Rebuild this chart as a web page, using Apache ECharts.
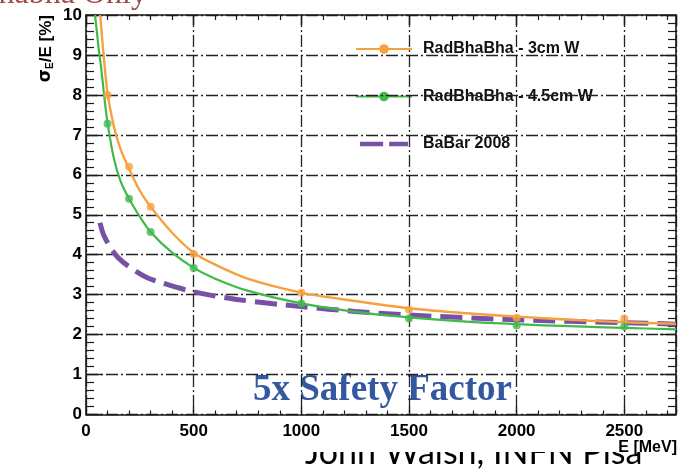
<!DOCTYPE html>
<html>
<head>
<meta charset="utf-8">
<script src="https://cdn.jsdelivr.net/npm/echarts@6/dist/echarts.min.js"></script>
<style>
  html, body { margin: 0; padding: 0; background: #fff; }
  #chart { width: 696px; height: 472px; }
</style>
</head>
<body>
<div id="chart"></div>
<script>
// Energy resolution vs. beam energy
const xTicks = [0, 500, 1000, 1500, 2000, 2500];
const yTicks = [0, 1, 2, 3, 4, 5, 6, 7, 8, 9, 10];

const nameW3 = 'RadBhaBha - 3cm W';
const nameW45 = 'RadBhaBha - 4.5cm W';
const nameBaBar = 'BaBar 2008';

// measured points [E MeV, sigma_E/E %]
const pointsW3 = [[100, 8.0], [200, 6.2], [300, 5.2], [500, 4.02], [1000, 3.05], [1500, 2.62], [2000, 2.42], [2500, 2.4]];
const pointsW45 = [[100, 7.28], [200, 5.4], [300, 4.57], [500, 3.67], [1000, 2.78], [1500, 2.4], [2000, 2.23], [2500, 2.2]];

// fitted curves
const curveW3 = [[66, 10], [80, 9.1], [100, 8.05], [130, 7.2], [160, 6.65], [200, 6.15], [250, 5.6], [300, 5.2],
  [400, 4.55], [500, 4.05], [600, 3.75], [750, 3.4], [1000, 3.05], [1250, 2.84], [1500, 2.66], [1750, 2.54],
  [2000, 2.45], [2250, 2.37], [2500, 2.31], [2740, 2.27]];
const curveW45 = [[42, 10], [50, 9.6], [60, 9.1], [70, 8.7], [85, 7.95], [100, 7.3], [130, 6.4], [160, 5.85],
  [200, 5.4], [250, 4.95], [300, 4.57], [400, 4.05], [500, 3.67], [600, 3.4], [750, 3.1], [1000, 2.78],
  [1250, 2.57], [1500, 2.43], [1750, 2.33], [2000, 2.26], [2250, 2.21], [2500, 2.17], [2740, 2.13]];
const curveBaBar = [[65, 4.8], [80, 4.52], [100, 4.3], [120, 4.12], [150, 3.92], [200, 3.7], [275, 3.45],
  [350, 3.3], [500, 3.07], [700, 2.88], [1000, 2.7], [1250, 2.58], [1500, 2.49], [2000, 2.37], [2500, 2.3], [2740, 2.26]];

const orange = '#f7a13e';
const green = '#40b94a';
const purple = '#7651a6';
const ink = '#1a1a1a';
const gridDash = [12, 3, 2, 3];
const labelFont = { fontFamily: 'Liberation Sans', fontWeight: 'bold', fontSize: 17, color: '#000' };

const xMin = xTicks[0], xMax = 2740, xStep = xTicks[1] - xTicks[0];
const yMin = yTicks[0], yMax = yTicks[yTicks.length - 1], yStep = yTicks[1] - yTicks[0];

function xAxisDef(pos, major, minor, labels, grid) {
  return {
    type: 'value', position: pos, min: xMin, max: xMax, interval: xStep, z: 1,
    axisLine: { show: true, onZero: false, lineStyle: { color: ink, width: 1.6 } },
    axisTick: { show: true, inside: true, length: major, lineStyle: { color: ink, width: 1.4 } },
    minorTick: { show: true, splitNumber: 5, length: minor, lineStyle: { color: ink, width: 1.2 } },
    axisLabel: { show: labels, margin: 8, showMaxLabel: false, formatter: v => String(v), ...labelFont },
    splitLine: { show: grid, lineStyle: { color: '#222', width: 1.3, type: gridDash } },
    minorSplitLine: { show: false }
  };
}
function yAxisDef(pos, major, minor, labels, grid) {
  return {
    type: 'value', position: pos, min: yMin, max: yMax, interval: yStep, z: 1,
    axisLine: { show: true, onZero: false, lineStyle: { color: ink, width: 1.6 } },
    axisTick: { show: true, inside: true, length: major, lineStyle: { color: ink, width: 1.4 } },
    minorTick: { show: true, splitNumber: 5, length: minor, lineStyle: { color: ink, width: 1.2 } },
    axisLabel: { show: labels, margin: 4, formatter: v => String(v), ...labelFont },
    splitLine: { show: grid, lineStyle: { color: '#222', width: 1.3, type: gridDash } },
    minorSplitLine: { show: false }
  };
}

// two long dashes for the BaBar legend key (tiny corner dots fix the icon box)
const dashedKey = 'path://M0,0h0.01v0.01h-0.01z M0,14h0.01v0.01h-0.01z M0,4.5h27v5h-27z M34,4.5h22v5h-22z M56,0h0.01v0.01h-0.01z';

const chart = echarts.init(document.getElementById('chart'), null, { renderer: 'canvas' });
chart.setOption({
  animation: false,
  backgroundColor: '#fff',
  grid: { left: 86, top: 15, right: 20, bottom: 57.5, containLabel: false },
  xAxis: [
    xAxisDef('bottom', 8, 4, true, true),
    xAxisDef('top', 10, 5, false, false)
  ],
  yAxis: [
    yAxisDef('left', 16, 8, true, true),
    yAxisDef('right', 16, 8, false, false)
  ],
  legend: {
    z: 0,
    orient: 'vertical',
    left: 355, top: 41, padding: 0,
    itemWidth: 56, itemHeight: 12, itemGap: 31.5,
    data: [
      { name: nameW3 },
      { name: nameW45 },
      { name: nameBaBar, icon: dashedKey, itemStyle: { color: purple } }
    ],
    textStyle: { fontFamily: 'Liberation Sans', fontWeight: 'bold', fontSize: 16, color: '#111', padding: [0, 0, 0, 6] }
  },
  graphic: [
    {
      type: 'text', x: 147, y: -5, z: 0,
      style: { text: 'Bhabha Only', font: '32px "Liberation Serif"', fill: '#a04848', textAlign: 'right', textVerticalAlign: 'middle' }
    },
    {
      type: 'text', x: 46, y: 15, z: 0, rotation: Math.PI / 2,
      style: {
        text: '{s|σ}{e|E}{t|/E [%]}',
        textAlign: 'right', textVerticalAlign: 'middle', fill: '#000',
        rich: {
          s: { fontFamily: 'DejaVu Sans', fontWeight: 'bold', fontSize: 17, fill: '#000' },
          e: { fontFamily: 'Liberation Sans', fontWeight: 'bold', fontSize: 10, fill: '#000', verticalAlign: 'bottom', padding: [8, 0, 0, 0] },
          t: { fontFamily: 'Liberation Sans', fontWeight: 'bold', fontSize: 17, fill: '#000' }
        }
      }
    },
    {
      type: 'text', x: 253, y: 390, z: 0,
      style: { text: '5x Safety Factor', font: 'bold 37px "Liberation Serif"', fill: '#34589f', textVerticalAlign: 'middle' }
    },
    {
      type: 'text', x: 305, y: 453.5, z: 0,
      style: { text: 'John Walsh, INFN Pisa', font: '34px Lato', fill: '#000', textVerticalAlign: 'middle' }
    },
    {
      type: 'rect', z: 1, shape: { x: 290, y: 437, width: 380, height: 15 },
      style: { fill: '#fff' }
    },
    {
      type: 'text', x: 677, y: 448, z: 5,
      style: { text: 'E [MeV]', font: 'bold 16px "Liberation Sans"', fill: '#000', textAlign: 'right', textVerticalAlign: 'middle' }
    }
  ],
  series: [
    {
      name: nameW3, type: 'line', data: curveW3, smooth: 0.3, showSymbol: false,
      symbol: 'circle', symbolSize: 8, z: 3,
      itemStyle: { color: orange }, lineStyle: { color: orange, width: 2.4 }
    },
    {
      name: nameW45, type: 'line', data: curveW45, smooth: 0.3, showSymbol: false,
      symbol: 'circle', symbolSize: 8, z: 3,
      itemStyle: { color: green }, lineStyle: { color: green, width: 2.2 }
    },
    {
      name: nameBaBar, type: 'line', data: curveBaBar, smooth: 0.3, showSymbol: false,
      symbol: 'none', z: 2,
      itemStyle: { color: purple }, lineStyle: { color: purple, width: 5, type: [22, 9], cap: 'butt' }
    },
    {
      name: nameW3, type: 'scatter', data: pointsW3, symbol: 'circle', symbolSize: 8, z: 4,
      itemStyle: { color: orange }
    },
    {
      name: nameW45, type: 'scatter', data: pointsW45, symbol: 'circle', symbolSize: 8, z: 4,
      itemStyle: { color: green }
    }
  ]
});
</script>
</body>
</html>
